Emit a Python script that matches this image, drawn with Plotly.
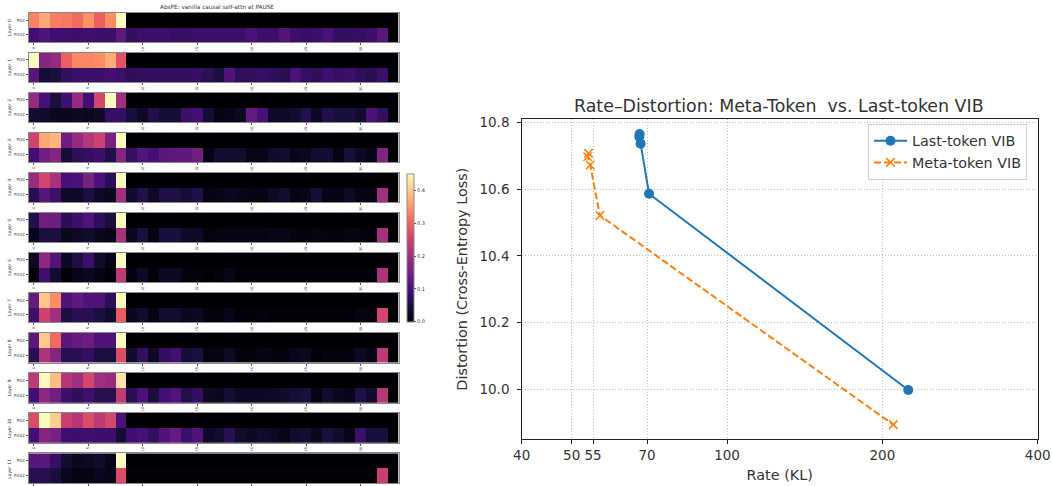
import plotly.graph_objects as go

W, H = 1052, 486
VMAX = 0.452

layer_names = [f"Layer {i}" for i in range(12)]
row_labels = ["PG0", "PG32"]
x_ticks = [0, 5, 10, 15, 20, 25, 30]

top_rows = [
    [.333,.369,.328,.324,.31,.346,.297,.342,.45],
    [.45,.171,.189,.297,.337,.337,.342,.373,.279],
    [.189,.103,.054,.094,.189,.099,.261,.45,.202],
    [.256,.369,.382,.144,.189,.225,.252,.158,.45],
    [.193,.261,.211,.103,.108,.157,.108,.072,.45],
    [.063,.148,.144,.072,.09,.112,.076,.05,.45],
    [.027,.18,.117,.027,.058,.09,.036,.013,.45],
    [.135,.396,.342,.112,.13,.112,.112,.076,.45],
    [.126,.4,.31,.126,.135,.144,.112,.112,.45],
    [.234,.45,.391,.225,.202,.261,.202,.193,.427],
    [.27,.45,.405,.248,.225,.27,.234,.261,.108],
    [.121,.126,.085,.04,.022,.027,.036,.018,.45],
]
bottom_rows = [
    [.099,.112,.094,.094,.09,.094,.09,.09,.13,.081,.09,.09,.09,.085,.085,.09,.09,.09,.09,.09,.108,.09,.09,.117,.09,.085,.09,.108,.081,.081,.085,.09,.121],
    [.121,.045,.05,.081,.09,.09,.09,.099,.09,.076,.081,.081,.081,.081,.081,.085,.072,.054,.112,.076,.081,.085,.076,.067,.108,.085,.076,.094,.085,.09,.076,.067,.09],
    [.04,.036,.022,.022,.027,.022,.031,.085,.085,.05,.031,.063,.045,.045,.09,.099,.045,.013,.018,.027,.135,.103,.031,.031,.04,.063,.027,.063,.05,.05,.036,.108,.081],
    [.099,.148,.171,.045,.076,.085,.09,.058,.171,.085,.117,.099,.126,.13,.13,.148,.013,.04,.04,.04,.018,.018,.036,.04,.018,.022,.04,.04,.013,.05,.027,.018,.166],
    [.067,.121,.09,.031,.031,.054,.031,.022,.202,.036,.063,.031,.058,.058,.045,.058,.013,.018,.022,.018,.013,.013,.027,.04,.013,.018,.045,.013,.013,.031,.013,.013,.202],
    [.018,.054,.054,.022,.031,.036,.022,.018,.211,.022,.054,.013,.05,.05,.031,.031,.009,.013,.013,.013,.013,.013,.018,.018,.009,.009,.013,.009,.009,.013,.009,.009,.207],
    [.004,.094,.04,.004,.018,.022,.013,.004,.234,.009,.031,.004,.027,.027,.009,.009,.004,.009,.018,.004,.004,.004,.004,.004,.004,.004,.004,.004,.004,.004,.004,.004,.216],
    [.09,.252,.202,.054,.072,.067,.054,.036,.292,.022,.036,.013,.04,.04,.022,.027,.009,.009,.018,.004,.004,.009,.004,.004,.004,.004,.004,.004,.004,.004,.013,.009,.261],
    [.067,.216,.171,.067,.072,.081,.054,.054,.27,.036,.081,.031,.081,.099,.045,.054,.013,.013,.031,.009,.009,.013,.009,.009,.018,.022,.004,.009,.009,.009,.027,.018,.234],
    [.099,.18,.148,.09,.076,.094,.067,.067,.238,.067,.108,.05,.099,.112,.063,.081,.027,.022,.045,.027,.027,.027,.031,.036,.045,.05,.013,.036,.022,.018,.058,.036,.225],
    [.099,.171,.158,.094,.09,.094,.09,.09,.045,.094,.103,.081,.112,.135,.09,.112,.031,.04,.067,.036,.027,.036,.031,.018,.036,.045,.022,.05,.036,.018,.09,.05,.05],
    [.067,.067,.05,.022,.013,.013,.022,.018,.27,.002,.002,.002,.002,.002,.002,.002,.002,.002,.002,.002,.002,.002,.002,.002,.002,.002,.002,.002,.002,.002,.002,.002,.248],
]

last_rate = [67.7, 67.6, 68.0, 70.6, 224.5]
last_dist = [10.765, 10.757, 10.736, 10.586, 9.998]
meta_rate = [53.9, 53.7, 54.3, 56.7, 210.0]
meta_dist = [10.707, 10.697, 10.672, 10.521, 9.894]
rate_ticks = [40, 50, 55, 70, 100, 200, 400]
dist_ticks = [10.0, 10.2, 10.4, 10.6, 10.8]
cb_ticks = [0.0, 0.1, 0.2, 0.3, 0.4]


def px(x):
    return x / W


def py(y):
    return 1 - y / H


panel_tops = [12.7, 52.5, 92.5, 132.5, 172.5, 212.5, 252.5, 292.7, 332.9, 373, 413, 453.3]
PANEL_H = 29.7
HM_L, HM_R = 28.5, 398.5
SPINE = "#8a8a8a"
TXT = "#333333"

fig = go.Figure()
layout = dict(
    width=W, height=H, autosize=False,
    margin=dict(l=0, r=0, t=0, b=0, autoexpand=False),
    paper_bgcolor="white", plot_bgcolor="white",
    font=dict(family="DejaVu Sans", color=TXT),
    coloraxis=dict(
        colorscale="Magma", cmin=0, cmax=VMAX,
        colorbar=dict(
            thicknessmode="pixels", thickness=7, lenmode="pixels", len=148,
            x=px(406.7), xanchor="left", xpad=0, ypad=0,
            y=py(173.7), yanchor="top",
            outlinecolor=SPINE, outlinewidth=1,
            tickvals=cb_ticks, ticktext=[f"{t:.1f}" for t in cb_ticks],
            ticks="outside", ticklen=2, tickwidth=0.5, tickcolor="#555",
            tickfont=dict(size=5, color=TXT),
        ),
    ),
    annotations=[],
    showlegend=True,
)

for i, name in enumerate(layer_names):
    xa = "x" if i == 0 else f"x{i+1}"
    ya = "y" if i == 0 else f"y{i+1}"
    xk = "xaxis" if i == 0 else f"xaxis{i+1}"
    yk = "yaxis" if i == 0 else f"yaxis{i+1}"
    top = top_rows[i] + [0.0] * (34 - len(top_rows[i]))
    bottom = bottom_rows[i] + [0.0] * (34 - len(bottom_rows[i]))
    fig.add_trace(go.Heatmap(z=[top, bottom], coloraxis="coloraxis", xaxis=xa, yaxis=ya,
                             showlegend=False, hoverongaps=False))
    t = panel_tops[i]
    layout[xk] = dict(
        domain=[px(HM_L), px(HM_R)], anchor=ya, range=[-0.5, 33.5],
        tickvals=x_ticks, ticktext=[str(v) for v in x_ticks], tickangle=-90,
        ticks="outside", ticklen=2, tickwidth=0.5, tickcolor="#555",
        tickfont=dict(size=3.5, color=TXT), showgrid=False, zeroline=False,
        showline=True, mirror=True, linecolor=SPINE, linewidth=1,
    )
    layout[yk] = dict(
        domain=[py(t + PANEL_H), py(t)], anchor=xa, range=[1.5, -0.5],
        tickvals=[0, 1], ticktext=row_labels,
        ticks="outside", ticklen=2, tickwidth=0.5, tickcolor="#555",
        tickfont=dict(size=4, color=TXT), showgrid=False, zeroline=False,
        showline=True, mirror=True, linecolor=SPINE, linewidth=1,
    )
    layout["annotations"].append(dict(
        text=name, x=px(9.5), y=py(t + PANEL_H / 2), xref="paper", yref="paper",
        xanchor="center", yanchor="middle",
        textangle=-90, showarrow=False, font=dict(size=4.5, color=TXT),
    ))

layout["annotations"].append(dict(
    text="AbsPE: vanilla causal self-attn at PAUSE", x=px(216.5), y=py(6.5),
    xref="paper", yref="paper", xanchor="center", yanchor="middle",
    showarrow=False, font=dict(size=5.75, color=TXT),
))

# right chart
fig.add_trace(go.Scatter(
    x=last_rate, y=last_dist, name="Last-token VIB", mode="lines+markers",
    line=dict(color="#1f77b4", width=2), marker=dict(symbol="circle", size=10, color="#1f77b4"),
    xaxis="x13", yaxis="y13",
))
fig.add_trace(go.Scatter(
    x=meta_rate, y=meta_dist, name="Meta-token VIB", mode="lines+markers",
    line=dict(color="#ff7f0e", width=2, dash="7px,3px"),
    marker=dict(symbol="x-thin", size=8.5, color="#ff7f0e", line=dict(color="#ff7f0e", width=1.5)),
    xaxis="x13", yaxis="y13",
))
L, R, T, B = 521.7, 1037.7, 119.3, 439
grid = dict(showgrid=True, gridcolor="#bdbdbd", gridwidth=1, griddash="1px,2px")
layout["xaxis13"] = dict(
    domain=[px(L), px(R)], anchor="y13", type="log",
    range=[1.60206, 2.60206],
    tickvals=rate_ticks, ticktext=[str(v) for v in rate_ticks],
    ticks="outside", ticklen=3.5, tickcolor="#222", tickfont=dict(size=13.5, color=TXT),
    title=dict(text="Rate (KL)", font=dict(size=14.4, color=TXT), standoff=8),
    zeroline=False, showline=True, mirror=True, linecolor="#222", linewidth=1, **grid,
)
layout["yaxis13"] = dict(
    domain=[py(B), py(T)], anchor="x13",
    range=[9.851, 10.809],
    tickvals=dist_ticks, ticktext=[f"{v:.1f}" for v in dist_ticks],
    ticks="outside", ticklen=3.5, tickcolor="#222", tickfont=dict(size=13.5, color=TXT),
    ticklabelstandoff=5,
    title=dict(text="Distortion (Cross-Entropy Loss)", font=dict(size=14.4, color=TXT), standoff=8),
    zeroline=False, showline=True, mirror=True, linecolor="#222", linewidth=1, **grid,
)
layout["annotations"].append(dict(
    text="Rate–Distortion: Meta-Token  vs. Last-token VIB", x=px(779), y=py(106),
    xref="paper", yref="paper", xanchor="center", yanchor="middle",
    showarrow=False, font=dict(size=17.4, color=TXT),
))
layout["legend"] = dict(
    x=px(868), y=py(124), xanchor="left", yanchor="top",
    bgcolor="rgba(255,255,255,0.8)", bordercolor="#d0d0d0", borderwidth=1,
    font=dict(size=14.3, color=TXT), itemwidth=33, tracegroupgap=0,
)

fig.update_layout(**layout)
fig.write_html("out.html", config=dict(displayModeBar=False),
               post_script="document.body.style.margin='0';document.documentElement.style.overflow='hidden';")
